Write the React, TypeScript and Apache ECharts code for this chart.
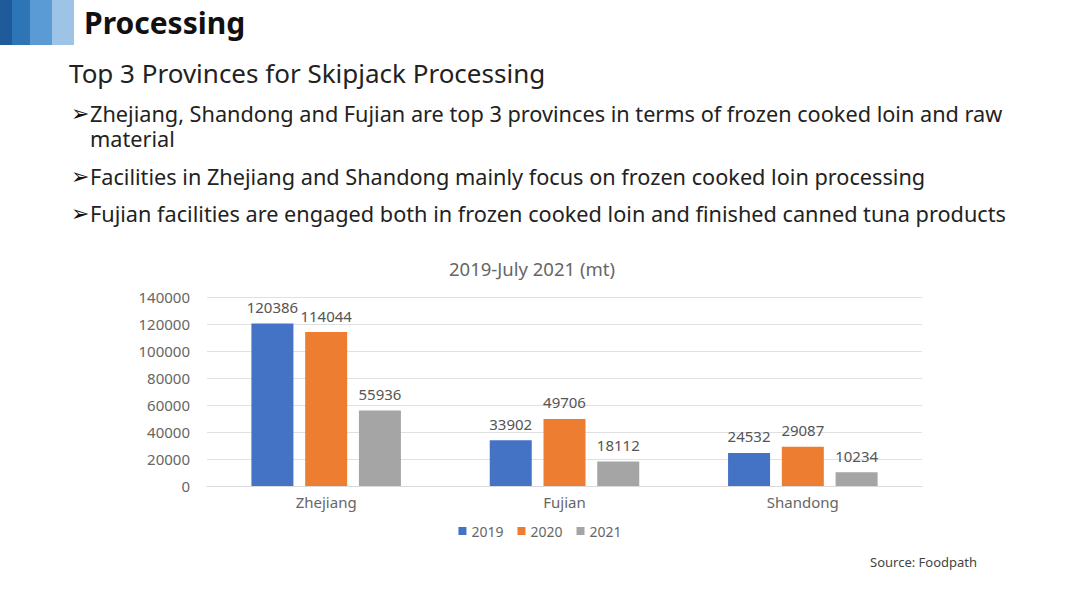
import React, { useEffect, useRef } from "react";
import * as echarts from "echarts";

const categories = ["Zhejiang", "Fujian", "Shandong"];
const years = ["2019", "2020", "2021"];
const values2019 = [120386, 33902, 24532];
const values2020 = [114044, 49706, 29087];
const values2021 = [55936, 18112, 10234];
const colors = ["#4472C4", "#ED7D31", "#A5A5A5"];
const bulletLines = [
  "Zhejiang, Shandong and Fujian are top 3 provinces in terms of frozen cooked loin and raw",
  "material",
  "Facilities in Zhejiang and Shandong mainly focus on frozen cooked loin processing",
  "Fujian facilities are engaged both in frozen cooked loin and finished canned tuna products",
];
const bulletMarks = [true, false, true, true];

export default function App() {
  const ref = useRef<HTMLDivElement>(null);
  useEffect(() => {
    const chart = echarts.init(ref.current!, null, { renderer: "svg" });
    const font = "'Noto Sans', 'Open Sans', sans-serif";
    const graphics: any[] = [
      { type: "rect", shape: { x: 0, y: 0, width: 12, height: 45 }, style: { fill: "#1F5A9A" } },
      { type: "rect", shape: { x: 12, y: 0, width: 18, height: 45 }, style: { fill: "#2E75B6" } },
      { type: "rect", shape: { x: 30, y: 0, width: 22, height: 45 }, style: { fill: "#5B9BD5" } },
      { type: "rect", shape: { x: 52, y: 0, width: 22, height: 45 }, style: { fill: "#9DC3E6" } },
      { type: "text", style: { x: 84, y: 22, text: "Processing", fontSize: 30, fontWeight: "bold", fill: "#111", fontFamily: font, verticalAlign: "middle" } },
      { type: "text", style: { x: 69, y: 73, text: "Top 3 Provinces for Skipjack Processing", fontSize: 26, fill: "#222", fontFamily: font, verticalAlign: "middle" } },
      { type: "text", style: { x: 532, y: 268, text: "2019-July 2021 (mt)", fontSize: 18.5, fill: "#666", fontFamily: font, align: "center", verticalAlign: "middle" } },
      { type: "text", style: { x: 870, y: 562, text: "Source: Foodpath", fontSize: 13, fill: "#444", fontFamily: font, verticalAlign: "middle" } },
    ];
    const ys = [113, 138, 176, 213];
    bulletLines.forEach((line, i) => {
      if (bulletMarks[i]) {
        graphics.push({ type: "text", style: { x: 71, y: ys[i], text: "➢", fontSize: 22, lineHeight: 22, fill: "#111", fontFamily: "DejaVu Sans", verticalAlign: "middle" } });
      }
      graphics.push({ type: "text", style: { x: 90, y: ys[i], text: line, fontSize: 21.7, lineHeight: 23, fill: "#222", fontFamily: font, align: "left", verticalAlign: "middle" } });
    });
    const seriesVals = [values2019, values2020, values2021];
    chart.setOption({
      animation: false,
      backgroundColor: "#fff",
      graphic: graphics,
      grid: { left: 207, right: 158, top: 297, bottom: 104, containLabel: false },
      legend: {
        data: years,
        left: "center",
        top: 519,
        itemWidth: 8,
        itemHeight: 8,
        itemGap: 14,
        icon: "rect",
        textStyle: { color: "#666", fontSize: 14, fontFamily: font },
      },
      xAxis: {
        type: "category",
        data: categories,
        axisLine: { lineStyle: { color: "#D9D9D9" } },
        axisTick: { show: false },
        axisLabel: { color: "#666", fontSize: 15, fontFamily: font, margin: 8 },
      },
      yAxis: {
        type: "value",
        min: 0,
        max: 140000,
        interval: 20000,
        axisLine: { show: false },
        axisTick: { show: false },
        splitLine: { lineStyle: { color: "#E0E0E0" } },
        axisLabel: { color: "#666", fontSize: 15, fontFamily: font, margin: 17, formatter: (v: number) => String(v) },
      },
      series: years.map((y, i) => ({
        name: y,
        type: "bar",
        data: seriesVals[i],
        barWidth: 42,
        barGap: "28%",
        itemStyle: { color: colors[i] },
        label: { show: true, position: "top", color: "#555", fontSize: 15, fontFamily: font, distance: 9 },
      })),
    });
    return () => chart.dispose();
  }, []);
  return <div ref={ref} style={{ position: "fixed", left: 0, top: 0, width: 1080, height: 590 }} />;
}
